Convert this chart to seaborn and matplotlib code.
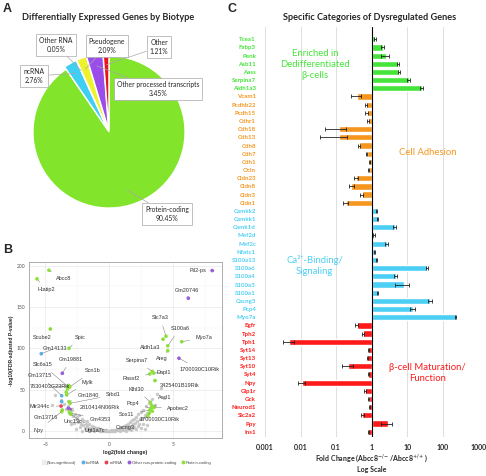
import numpy as np
import pandas as pd
import matplotlib
matplotlib.use("Agg")
import matplotlib.pyplot as plt
from matplotlib.lines import Line2D
import seaborn as sns

# --------------------------------------------------
# DATA
# --------------------------------------------------

# A: biotype shares (%)
biotypes = ["Protein-coding", "ncRNA", "Other RNA", "Pseudogene",
            "Other processed transcripts", "Other"]
biotype_pct = [90.45, 2.76, 0.05, 2.09, 3.45, 1.21]

# B: labelled genes of the volcano plot
volc_genes = ["Abcc8", "Htatip2", "Ftl2-ps", "Gm20746", "Slc7a3", "S100a6", "Aldh1a3",
              "Areg", "Myo7a", "1700030C10Rik", "Serpina7", "Rassf2", "Dapl1",
              "3425401B19Rik", "Klhl30", "Ascl1", "Pcp4", "Apobec2", "Sox11",
              "1700030C10Rik", "Cacng3", "Scube2", "Spic", "Gm14133", "Gm19881",
              "Slc6a15", "Scn1b", "Gm13715", "7630403G23Rik", "Mylk", "Gm1840",
              "Srbd1", "Mir344c", "2810414N06Rik", "Gm13716", "Npy", "Unc13c",
              "Gm4353", "Ugt1a7c"]
volc_lfc = [-4.71, -5.65, 8.10, 6.22, 4.47, 4.61, 4.24, 4.61, 5.70, 5.49, 3.40, 3.20, 3.50,
            3.60, 3.25, 3.45, 3.30, 3.55, 3.20, 3.15, 3.05, -4.60, -3.14, -5.31, -3.66,
            -3.22, -3.08, -3.71, -3.19, -3.32, -3.14, -3.06, -3.76, -3.19, -3.66, -3.71,
            -3.11, -3.00, -2.98]
volc_logp = [194.4, 184.0, 194.0, 160.6, 114.6, 103.0, 111.0, 97.0, 108.0, 88.0, 72.0, 69.0,
             70.0, 61.0, 34.7, 28.7, 27.5, 28.7, 25.4, 21.4, 18.0, 123.4, 100.0, 93.5, 69.8,
             53.6, 53.2, 42.7, 53.6, 43.6, 35.5, 33.5, 30.2, 27.5, 25.4, 23.4, 23.4, 21.4, 20.2]
volc_type = ["Protein-coding", "Protein-coding", "Other non-protein-coding",
             "Other non-protein-coding", "Protein-coding", "Protein-coding", "Protein-coding",
             "Protein-coding", "Protein-coding", "Other non-protein-coding", "Protein-coding",
             "Protein-coding", "Protein-coding", "Protein-coding", "Protein-coding",
             "Protein-coding", "Protein-coding", "Protein-coding", "Protein-coding",
             "Protein-coding", "Protein-coding", "Protein-coding", "Protein-coding", "lncRNA",
             "Other non-protein-coding", "Protein-coding", "Protein-coding", "lncRNA",
             "Protein-coding", "Protein-coding", "Protein-coding", "Protein-coding", "miRNA",
             "Other non-protein-coding", "Protein-coding", "Protein-coding", "Protein-coding",
             "Protein-coding", "Protein-coding"]
# extra significant points without label
extra_lfc = [-3.71, -3.25, -3.15, -3.35, 3.35, 3.40, -3.05]
extra_logp = [35.5, 51.0, 55.0, 47.0, 31.0, 24.0, 26.0]
extra_type = ["lncRNA", "Protein-coding", "Protein-coding", "Protein-coding",
              "Protein-coding", "Protein-coding", "Other non-protein-coding"]

# B: non-significant cloud
ns_lfc = [-4.5, -4.2, -3.8, -3.5, -3.4, -3.2, -3.1, -3.0, -2.9, -2.8, -2.7, -2.6, -2.6, -2.5,
          -2.4, -2.35, -2.2, -2.15, -2.1, -2.0, -1.95, -1.9, -1.8, -1.8, -1.7, -1.65, -1.55,
          -1.5, -1.4, -1.35, -1.25, -1.2, -1.2, -1.1, -1.05, -0.95, -0.9, -0.9, -0.8, -0.75,
          -0.65, -0.6, -0.5, -0.45, -0.35, -0.3, -0.2, -0.15, -0.05, 0.05, 0.15, 0.2, 0.3,
          0.4, 0.45, 0.55, 0.6, 0.7, 0.75, 0.85, 0.9, 0.9, 1.0, 1.05, 1.15, 1.2, 1.3, 1.3,
          1.35, 1.45, 1.5, 1.6, 1.65, 1.7, 1.75, 1.8, 1.9, 1.95, 2.05, 2.1, 2.1, 2.2, 2.3,
          2.4, 2.5, 2.5, 2.6, 2.7, 2.8, 2.8, 2.9, 3.0, 3.0, 3.1, 3.25, 3.4, 3.6, 3.8, 4.1, 4.3,
          -2.3, -1.6, -1.0, -0.7, -0.25, 0.1, 0.5, 0.8, 1.1, 1.55, 1.85, 2.25, 2.65, -2.75,
          -1.75, -1.3, 1.4, 2.0, 2.35]
ns_logp = [32, 44, 38, 33, 27, 30, 22, 8, 25, 18, 21, 14, 3, 17, 11, 19, 9, 14, 0.5, 7, 12, 4,
           9, 1, 6, 2, 8, 4, 1, 6, 3, 5, 0.3, 1, 4, 2, 3.5, 0.8, 1, 2.5, 0.5, 2, 1, 0.3, 1.5,
           0.4, 1, 0.2, 0.6, 0.3, 0.8, 0.2, 1.2, 0.5, 1.8, 0.8, 2.5, 1.2, 3, 1.5, 4, 0.5, 2, 5,
           2.5, 6, 3, 0.6, 7.5, 4, 9, 5, 11, 1.5, 6, 13, 8, 15, 10, 17, 2, 12, 20, 14, 23, 4,
           16, 26, 19, 3, 30, 22, 7, 34, 26, 39, 31, 45, 52, 40,
           5, 3, 2.5, 0.5, 0.8, 0.4, 0.3, 2, 1.2, 2.5, 4, 6, 9, 10,
           12, 1.5, 4.5, 5, 8]

# C: fold change (Abcc8-/- vs Abcc8+/+) with SEM
c_genes = ["Tcea1", "Fabp3", "Penk", "Asb11", "Aass", "Serpina7", "Aldh1a3",
           "Vcam1", "Pcdhb22", "Pcdh15", "Cdhr1", "Cdh18", "Cdh13", "Cdh8", "Cdh7", "Cdh1",
           "Ocln", "Cldn23", "Cldn8", "Cldn3", "Cldn1",
           "Camkk2", "Camkk1", "Camk1d", "Mef2d", "Mef2c", "Nfatc1", "S100a13", "S100a6",
           "S100a4", "S100a3", "S100a1", "Cacng3", "Pcp4", "Myo7a",
           "Egfr", "Tph2", "Tph1", "Syt14", "Syt13", "Syt10", "Syt4", "Npy", "Glp1r", "Gck",
           "Neurod1", "Slc2a2", "Ppy", "Ins1"]
c_fold = [1.24, 2.04, 2.48, 5.5, 5.98, 11.0, 25.4,
          0.39, 0.69, 0.72, 0.79, 0.12, 0.12, 0.44, 0.72, 0.86, 0.82, 0.36, 0.27, 0.52, 0.19,
          1.38, 1.47, 4.5, 1.16, 2.64, 1.21, 1.38, 36.6, 4.73, 8.1, 1.47, 43.7, 14.2, 231.0,
          0.38, 0.56, 0.0048, 0.80, 0.76, 0.22, 0.80, 0.0108, 0.65, 0.82, 0.85, 0.55, 2.82, 0.80]
c_sem = [0.05, 0.15, 0.6, 0.3, 0.4, 1.0, 2.0,
         0.12, 0.06, 0.05, 0.04, 0.07, 0.085, 0.04, 0.04, 0.03, 0.03, 0.04, 0.04, 0.05, 0.03,
         0.06, 0.08, 0.5, 0.05, 0.2, 0.05, 0.06, 2.5, 0.4, 3.5, 0.06, 5.0, 2.0, 12.0,
         0.03, 0.03, 0.0016, 0.03, 0.03, 0.075, 0.03, 0.0022, 0.04, 0.03, 0.03, 0.05, 1.0, 0.03]
c_group = ["Enriched"] * 7 + ["Adhesion"] * 14 + ["Calcium"] * 14 + ["Maturation"] * 14

# --------------------------------------------------
# STYLE
# --------------------------------------------------

sns.set_style("white")
plt.rcParams["font.family"] = ["Lato", "DejaVu Sans"]

W, H = 486, 476


def fx(px):
    return px / W


def fy(py):
    return 1 - py / H


fig = plt.figure(figsize=(4.86, 4.76), dpi=100)

for letter, (px, py) in {"A": (3, 9), "B": (3, 250), "C": (227, 9)}.items():
    fig.text(fx(px), fy(py), letter, fontsize=9, weight="bold",
             family=["Liberation Sans"], va="center", ha="left")

# --------------------------------------------------
# A: PIE
# --------------------------------------------------

pie_colors = ["#82E52C", "#3ECFF2", "#B0B0B0", "#EEF22C", "#9B4DEA", "#E8141B"]
explode = [0, 0.035, 0.035, 0.035, 0.035, 0.035]

axA = fig.add_axes([fx(109 - 76), fy(132 + 76), 152 / W, 152 / H])
wedges, _ = axA.pie(biotype_pct, colors=pie_colors, startangle=90, counterclock=False,
                    explode=explode, wedgeprops=dict(edgecolor="white", linewidth=0.9))
axA.set_xlim(-1, 1)
axA.set_ylim(-1, 1)
axA.set_aspect("equal")
axA.axis("off")

fig.text(fx(108), fy(17), "Differentially Expressed Genes by Biotype",
         ha="center", va="center", fontsize=6.6, weight="bold")

box_pos = {"Protein-coding": (167, 214), "ncRNA": (34, 76), "Other RNA": (56, 45),
           "Pseudogene": (107, 46), "Other processed transcripts": (158, 89),
           "Other": (159, 47)}
for w, name, pct in zip(wedges, biotypes, biotype_pct):
    ang = np.deg2rad((w.theta1 + w.theta2) / 2)
    r = 0.8 if name == "Protein-coding" else 0.85
    cx, cy = w.center
    px, py = box_pos[name]
    axA.annotate(f"{name}\n{pct:.2f}%", xy=(cx + r * np.cos(ang), cy + r * np.sin(ang)),
                 xytext=(fx(px), fy(py)), textcoords="figure fraction",
                 ha="center", va="center", fontsize=4.9, linespacing=1.3,
                 bbox=dict(boxstyle="square,pad=0.45", fc="white", ec="#A8A8A8", lw=0.5),
                 arrowprops=dict(arrowstyle="-", color="#A8A8A8", lw=0.5, shrinkA=0, shrinkB=0),
                 annotation_clip=False)

# --------------------------------------------------
# B: VOLCANO
# --------------------------------------------------

type_colors = {"lncRNA": "#5AAEE6", "miRNA": "#E8435A",
               "Other non-protein-coding": "#9B5BDA", "Protein-coding": "#8EE03A"}

axB = fig.add_axes([fx(29.3), fy(438.3), 192.4 / W, 176 / H])
axB.set_facecolor("white")
axB.set_xlim(-6.25, 8.84)
axB.set_ylim(-8.8, 204)
axB.set_xticks([-5, 0, 5])
axB.set_yticks([0, 50, 100, 150, 200])
axB.set_xticks([-2.5, 2.5, 7.5], minor=True)
axB.set_yticks([25, 75, 125, 175], minor=True)
axB.grid(True, which="major", color="#E6E6E6", lw=0.45)
axB.grid(True, which="minor", color="#F3F3F3", lw=0.35)
axB.set_axisbelow(True)
for sp in axB.spines.values():
    sp.set_color("#A0A0A0")
    sp.set_linewidth(0.6)
axB.tick_params(which="major", length=1.5, width=0.4, color="#888888", labelsize=3.6,
                labelcolor="#555555", pad=1.5)
axB.tick_params(which="minor", length=0)

sns.scatterplot(x=ns_lfc, y=ns_logp, color="#C4C4C4", s=6, linewidth=0, alpha=0.9,
                ax=axB, legend=False)
sns.scatterplot(x=extra_lfc, y=extra_logp, hue=extra_type, palette=type_colors, s=7,
                linewidth=0, ax=axB, legend=False)
sns.scatterplot(x=volc_lfc, y=volc_logp, hue=volc_type, palette=type_colors, s=7,
                linewidth=0, ax=axB, legend=False)

volc_lab = [(-3.55, 184), (-4.9, 170.6), (7.0, 194.4), (6.14, 169.4), (4.0, 137.6),
            (5.57, 124.3), (3.22, 101.3), (4.13, 88), (7.45, 113), (7.14, 73.8), (2.17, 84.7),
            (1.73, 63.3), (4.26, 71), (5.57, 54.8), (2.17, 50.8), (4.39, 40.8), (1.9, 33.5),
            (5.44, 27.5), (1.39, 19.4), (4.0, 14.2), (1.25, 4.5), (-5.28, 113.4),
            (-2.27, 113.4), (-4.24, 100), (-2.98, 87), (-5.2, 79.9), (-1.28, 73),
            (-5.41, 67), (-4.63, 54.4), (-1.7, 58.9), (-1.62, 42.7), (0.34, 43.6),
            (-5.41, 30.2), (-0.71, 28.7), (-4.94, 16.6), (-5.54, 1.2), (-2.8, 11.3),
            (-0.71, 14.2), (-1.1, 1.2)]
for g, x, y, (lx, ly) in zip(volc_genes, volc_lfc, volc_logp, volc_lab):
    axB.annotate(g, xy=(x, y), xytext=(lx, ly), fontsize=4, color="#333333",
                 family=["Liberation Sans"], ha="center", va="center",
                 arrowprops=dict(arrowstyle="-", color="#777777", lw=0.35,
                                 shrinkA=2, shrinkB=1))

axB.set_xlabel("log2(fold change)", fontsize=3.8, weight="bold", labelpad=1.5,
               family=["Liberation Sans"])
axB.set_ylabel("-log10(FDR-adjusted P-value)", fontsize=3.6, weight="bold", labelpad=1.5,
               family=["Liberation Sans"])

leg_labels = ["(Non-significant)", "lncRNA", "miRNA", "Other non-protein-coding",
              "Protein-coding"]
leg_handles = [Line2D([], [], marker="s", ls="", color="#EDEDED", markersize=3)]
leg_handles += [Line2D([], [], marker="o", ls="", color=type_colors[t], markersize=1.8)
                for t in leg_labels[1:]]
fig.legend(leg_handles, leg_labels, loc="center", bbox_to_anchor=(fx(127), fy(462.7)),
           ncol=5, frameon=False, prop=dict(family="Liberation Sans", size=2.9),
           handlelength=0.8, handletextpad=0.3, columnspacing=1.3, labelcolor="#444444")

# --------------------------------------------------
# C: BARS (log10 fold change)
# --------------------------------------------------

grp_colors = {"Enriched": "#45E43A", "Adhesion": "#F5961F", "Calcium": "#4CCFF4",
              "Maturation": "#FF1A1A"}

df = pd.DataFrame({"gene": c_genes, "fold": c_fold, "sem": c_sem, "group": c_group})
df["log_fc"] = np.log10(df["fold"])

axC = fig.add_axes([fx(265), fy(436.6), 213.3 / W, 409.6 / H])
sns.barplot(data=df, x="log_fc", y="gene", hue="group", palette=grp_colors, dodge=False,
            width=0.76, saturation=1, orient="h", legend=False, ax=axC)

lo = df["log_fc"] - np.log10(df["fold"] - df["sem"])
hi = np.log10(df["fold"] + df["sem"]) - df["log_fc"]
axC.errorbar(df["log_fc"], np.arange(len(df)), xerr=[lo, hi], fmt="none", ecolor="#222222",
             elinewidth=0.6, capsize=1.3, capthick=0.6)

axC.set_xlim(-3, 3)
axC.set_ylim(48.6, -1.5)
axC.set_xticks(range(-3, 4))
axC.set_xticklabels(["0.001", "0.01", "0.1", "1", "10", "100", "1000"],
                    fontsize=5, weight="bold")
axC.grid(True, axis="x", color="#D9D9D9", lw=0.6)
axC.set_axisbelow(True)
for sp in axC.spines.values():
    sp.set_visible(False)
axC.axvline(0, color="black", lw=0.8)
axC.tick_params(axis="both", length=0)
axC.tick_params(axis="x", pad=5)
axC.tick_params(axis="y", pad=6.5)
axC.set_yticks(range(len(df)))
axC.set_yticklabels(c_genes, fontsize=4.4, weight="bold")
for lbl, grp in zip(axC.get_yticklabels(), c_group):
    lbl.set_color(grp_colors[grp])
axC.set_ylabel("")
axC.set_xlabel("Fold Change (Abcc8$^{-/-}$/Abcc8$^{+/+}$)\nLog Scale", fontsize=5,
               weight="bold", labelpad=1.5, linespacing=1.25)

fig.text(fx(370), fy(17), "Specific Categories of Dysregulated Genes",
         ha="center", va="center", fontsize=6.6, weight="bold")

axC.text(-1.6, 3.1, "Enriched in\nDedifferentiated\nβ-cells", color=grp_colors["Enriched"],
         ha="center", va="center", fontsize=6.8, linespacing=1.3)
axC.text(1.59, 13.8, "Cell Adhesion", color=grp_colors["Adhesion"],
         ha="center", va="center", fontsize=6.8)
axC.text(-1.6, 27.7, "Ca²⁺-Binding/\nSignaling", color=grp_colors["Calcium"],
         ha="center", va="center", fontsize=6.8, linespacing=1.3)
axC.text(1.56, 40.8, "β-cell Maturation/\nFunction", color=grp_colors["Maturation"],
         ha="center", va="center", fontsize=6.8, linespacing=1.3)

fig.savefig("out.png", dpi=100)
